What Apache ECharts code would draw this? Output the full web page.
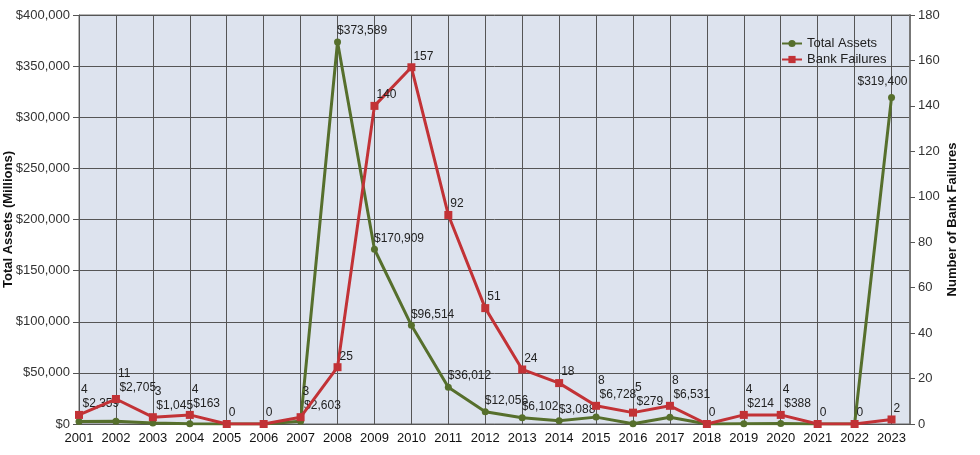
<!DOCTYPE html>
<html>
<head>
<meta charset="utf-8">
<script src="https://cdn.jsdelivr.net/npm/echarts@6/dist/echarts.min.js"></script>
<style>
  html, body { margin: 0; padding: 0; background: #fff; }
  #chart { width: 980px; height: 455px; }
</style>
</head>
<body>
<div id="chart"></div>
<script>
var years = [2001, 2002, 2003, 2004, 2005, 2006, 2007, 2008, 2009, 2010, 2011, 2012,
             2013, 2014, 2015, 2016, 2017, 2018, 2019, 2020, 2021, 2022, 2023];
var totalAssets = [2359, 2705, 1045, 163, 0, 0, 2603, 373589, 170909, 96514, 36012, 12056,
                   6102, 3088, 6728, 279, 6531, 0, 214, 388, 0, 0, 319400];
var bankFailures = [4, 11, 3, 4, 0, 0, 3, 25, 140, 157, 92, 51,
                    24, 18, 8, 5, 8, 0, 4, 4, 0, 0, 2];

var FONT = 'Liberation Sans';
var GREEN = '#566f2c';
var RED = '#c23236';
var PLOT_RIGHT = 910;

function pairs(vals) {
    return years.map(function (y, i) { return [y, vals[i]]; });
}
function money(v) {
    return '$' + v.toLocaleString('en-US');
}

var myChart = echarts.init(document.getElementById('chart'));
var option = {
    animation: false,
    textStyle: { fontFamily: FONT },
    grid: {
        left: 79,
        right: 70,
        top: 15,
        bottom: 31,
        outerBoundsMode: 'none',
        containLabel: false,
        show: true,
        backgroundColor: '#dde3ee',
        borderColor: '#6b6b6b',
        borderWidth: 1
    },
    legend: {
        orient: 'vertical',
        left: 776,
        top: 32,
        itemGap: 3,
        itemWidth: 20,
        itemHeight: 9,
        textStyle: { fontFamily: FONT, fontSize: 13, color: '#222' },
        data: ['Total Assets', 'Bank Failures']
    },
    xAxis: {
        type: 'value',
        min: 2001,
        max: 2023.5,
        interval: 1,
        axisLine: { lineStyle: { color: '#555' } },
        axisTick: { show: false },
        axisLabel: {
            color: '#111',
            fontSize: 13,
            margin: 8,
            formatter: function (v) { return v % 1 === 0 ? String(v) : ''; }
        },
        splitLine: { show: true, lineStyle: { color: '#555', width: 1 } }
    },
    yAxis: [
        {
            type: 'value',
            min: 0,
            max: 400000,
            interval: 50000,
            name: 'Total Assets (Millions)',
            nameLocation: 'middle',
            nameGap: 64,
            nameMoveOverlap: false,
            nameTextStyle: { fontFamily: FONT, fontSize: 13, fontWeight: 'bold', color: '#111' },
            axisLine: { show: true, lineStyle: { color: '#555' } },
            axisTick: { show: true, length: 6, lineStyle: { color: '#555' } },
            axisLabel: { color: '#333', fontSize: 13, margin: 9, formatter: money },
            splitLine: { show: true, lineStyle: { color: '#555', width: 1 } }
        },
        {
            type: 'value',
            min: 0,
            max: 180,
            interval: 20,
            name: 'Number of Bank Failures',
            nameLocation: 'middle',
            nameGap: 36,
            nameRotate: 90,
            nameMoveOverlap: false,
            nameTextStyle: { fontFamily: FONT, fontSize: 13, fontWeight: 'bold', color: '#111' },
            axisLine: { show: true, lineStyle: { color: '#777', width: 2 } },
            axisTick: { show: true, length: 5, lineStyle: { color: '#555' } },
            axisLabel: { color: '#333', fontSize: 13, margin: 8 },
            splitLine: { show: false }
        }
    ],
    // lift point labels above-right; near the floor stack the asset label
    // over the red line and the failure count over that
    labelLayout: function (p) {
        var i = p.dataIndex;
        var green = p.seriesIndex === 0;
        var cy = p.rect.y + p.rect.height / 2;
        var dx = green ? -5 : -2;
        var dy = -11;
        var low = totalAssets[i] > 0 && totalAssets[i] < 50000 && bankFailures[i] < 12;
        if (low) {
            var redY = myChart.convertToPixel({ yAxisIndex: 1 }, bankFailures[i]);
            var greenY = myChart.convertToPixel({ yAxisIndex: 0 }, totalAssets[i]);
            if (typeof redY === 'number' && typeof greenY === 'number') {
                var gCenter = Math.min(redY, greenY) - 11;
                dy = green ? gCenter - cy : gCenter - 14 - cy;
                if (green) dx = -1;
            }
        }
        if (p.labelRect.x + dx + p.labelRect.width > PLOT_RIGHT) {
            dx = -(p.labelRect.width + p.rect.width / 2 - 15);
            dy = -16;
        }
        return { dx: dx, dy: dy };
    },
    series: [
        {
            name: 'Total Assets',
            type: 'line',
            yAxisIndex: 0,
            data: pairs(totalAssets),
            symbol: 'circle',
            symbolSize: 7,
            lineStyle: { color: GREEN, width: 3 },
            itemStyle: { color: GREEN },
            label: {
                show: true,
                position: 'right',
                distance: 1,
                color: '#222',
                fontSize: 12,
                formatter: function (p) {
                    return p.value[1] === 0 ? '' : money(p.value[1]);
                }
            },
            z: 3
        },
        {
            name: 'Bank Failures',
            type: 'line',
            yAxisIndex: 1,
            data: pairs(bankFailures),
            symbol: 'rect',
            symbolSize: 8,
            lineStyle: { color: RED, width: 3 },
            itemStyle: { color: RED },
            label: {
                show: true,
                position: 'right',
                distance: 0,
                color: '#222',
                fontSize: 12,
                formatter: function (p) { return String(p.value[1]); }
            },
            z: 4
        }
    ]
};
myChart.setOption(option);
</script>
</body>
</html>
